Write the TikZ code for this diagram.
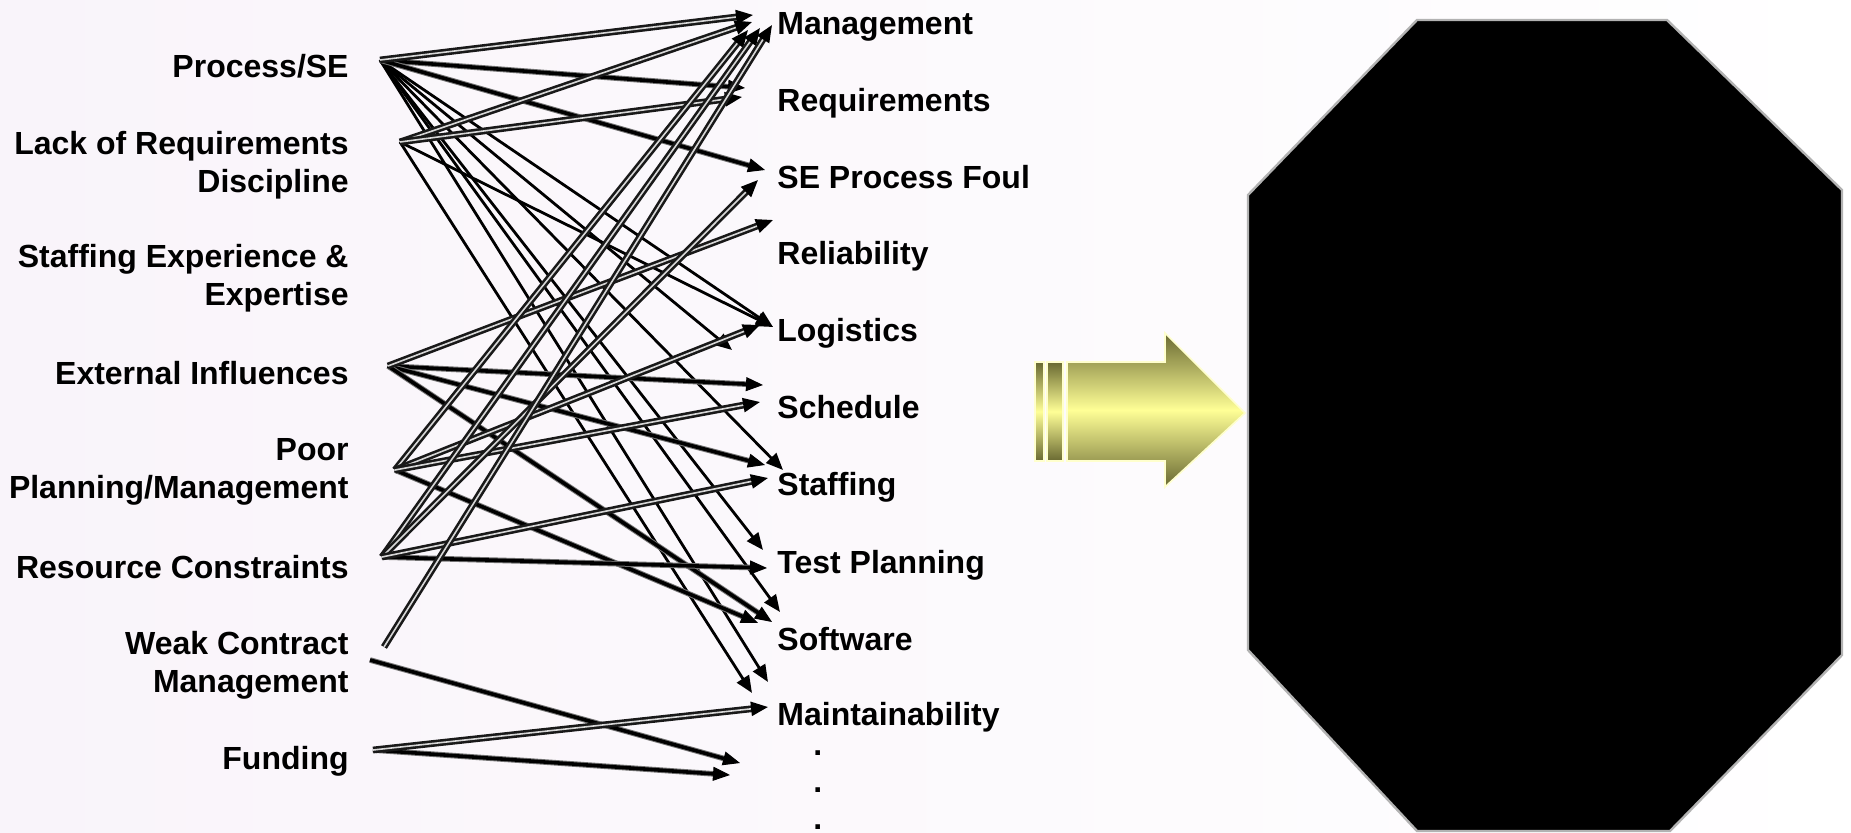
\documentclass[tikz,border=0pt]{standalone}
\usepackage{fontspec}
\setmainfont{Liberation Sans}
\usetikzlibrary{arrows.meta}
\definecolor{bgl}{RGB}{249,244,250}
\definecolor{olvd}{RGB}{105,105,50}
\definecolor{yel}{RGB}{255,255,150}
\definecolor{yelp}{RGB}{255,255,205}
\definecolor{stripe}{RGB}{215,215,215}
\begin{document}
\begin{tikzpicture}[x=0.5pt,y=-0.5pt,
  lbl/.style={font=\bfseries\fontsize{16}{19}\selectfont, inner sep=0pt},
  lleft/.style={lbl, anchor=base east, align=right},
  lright/.style={lbl, anchor=base west},
  tipA/.style={-{Triangle[length=8.5pt,width=7pt,color=black]}},
  cthin/.style={tipA, draw=black, line width=1.4pt},
  cthick/.style={tipA, draw=black!55, double=black, double distance=1.8pt, line width=0.5pt},
  ctriple/.style={tipA, draw=black!90, double=stripe, double distance=0.8pt, line width=1.3pt},
  ydark/.style={top color=olvd, bottom color=olvd, middle color=yel, draw=yelp, line width=0.8pt}
]
\useasboundingbox (0,0) rectangle (1851,833);
\shade[left color=bgl, right color=white] (0,0) rectangle (1851,833);

% octagon
\fill[black, draw=gray!60, line width=1.2pt] (1417,20) -- (1667,20) -- (1842,190) -- (1842,655) -- (1670,831) -- (1417,831) -- (1248,650) -- (1248,195) -- cycle;

% yellow arrow
\shadedraw[ydark] (1035,362) rectangle (1044,461);
\shadedraw[ydark] (1047,362) rectangle (1063,461);
\shadedraw[ydark] (1067,362) -- (1165,362) -- (1165,333) -- (1245,413) -- (1165,487) -- (1165,461) -- (1067,461) -- cycle;

% left labels (anchor at baseline of last line)
\node[lleft] (nP)  at (349,78)  {Process/SE};
\node[lleft] (nL)  at (349,193) {Lack of Requirements\\Discipline};
\node[lleft] (nS)  at (349,306) {Staffing Experience \&\\Expertise};
\node[lleft] (nE)  at (349,385) {External Influences};
\node[lleft] (nPP) at (349,499) {Poor\\Planning/Management};
\node[lleft] (nR)  at (349,578) {Resource Constraints};
\node[lleft] (nW)  at (349,692) {Weak Contract\\Management};
\node[lleft] (nF)  at (349,769) {Funding};

% right labels
\node[lright] (rM)  at (777,35)  {Management};
\node[lright] (rRq) at (777,112) {Requirements};
\node[lright] (rS)  at (777,189) {SE Process Foul};
\node[lright] (rRl) at (777,265) {Reliability};
\node[lright] (rLg) at (777,342) {Logistics};
\node[lright] (rSc) at (777,419) {Schedule};
\node[lright] (rSt) at (777,495) {Staffing};
\node[lright] (rT)  at (777,573) {Test Planning};
\node[lright] (rSw) at (777,650) {Software};
\node[lright] (rMa) at (777,725) {Maintainability};
\node[lright] (d1)  at (813,755) {.};
\node[lright] (d2)  at (813,792) {.};
\node[lright] (d3)  at (813,829) {.};

% source points
\coordinate (sP)  at (380,60);
\coordinate (sL)  at (400,142);
\coordinate (sE)  at (388,366);
\coordinate (sPP) at (395,470);
\coordinate (sR)  at (382,557);
\coordinate (sW)  at (384,647);
\coordinate (sW2) at (370,660);
\coordinate (sF)  at (373,750);

% tips
\coordinate (tM1) at (753,15);
\coordinate (tM2) at (752,22);
\coordinate (tM3) at (748,30);
\coordinate (tM4) at (760,28);
\coordinate (tM5) at (772,25);
\coordinate (tRq1) at (745,88);
\coordinate (tRq2) at (742,97);
\coordinate (tS1) at (765,170);
\coordinate (tS2) at (758,180);
\coordinate (tRl) at (773,220);
\coordinate (tLg1) at (773,327);
\coordinate (tLg2) at (760,325);
\coordinate (tLg3) at (732,350);
\coordinate (tSc1) at (763,385);
\coordinate (tSc2) at (760,402);
\coordinate (tSt1) at (765,465);
\coordinate (tSt2) at (783,470);
\coordinate (tSt3) at (768,478);
\coordinate (tT1) at (763,550);
\coordinate (tT2) at (767,568);
\coordinate (tSw1) at (780,612);
\coordinate (tSw2) at (772,622);
\coordinate (tSw3) at (758,623);
\coordinate (tMa1) at (768,682);
\coordinate (tMa2) at (752,693);
\coordinate (tMa3) at (768,707);
\coordinate (tB1) at (740,763);
\coordinate (tB2) at (730,775);

% thin connectors
\draw[cthin] (sP) -- (tLg1);
\draw[cthin] (sP) -- (tLg3);
\draw[cthin] (sP) -- (tSt2);
\draw[cthin] (sP) -- (tT1);
\draw[cthin] (sP) -- (tSw1);
\draw[cthin] (sP) -- (tMa1);
\draw[cthin] (sL) -- (tLg1);
\draw[cthin] (sL) -- (tMa2);

% thick connectors
\draw[cthick] (sP) -- (tRq1);
\draw[cthick] (sP) -- (tS1);
\draw[cthick] (sE) -- (tSc1);
\draw[cthick] (sE) -- (tSt1);
\draw[cthick] (sE) -- (tSw2);
\draw[cthick] (sPP) -- (tSw3);
\draw[cthick] (sR) -- (tT2);
\draw[cthick] (sW2) -- (tB1);
\draw[cthick] (sF) -- (tB2);

% triple connectors
\draw[ctriple] (sP) -- (tM1);
\draw[ctriple] (sL) -- (tM2);
\draw[ctriple] (sL) -- (tRq2);
\draw[ctriple] (sE) -- (tRl);
\draw[ctriple] (sPP) -- (tM3);
\draw[ctriple] (sPP) -- (tLg2);
\draw[ctriple] (sPP) -- (tSc2);
\draw[ctriple] (sR) -- (tM4);
\draw[ctriple] (sR) -- (tS2);
\draw[ctriple] (sR) -- (tSt3);
\draw[ctriple] (sW) -- (tM5);
\draw[ctriple] (sF) -- (tMa3);
\end{tikzpicture}
\end{document}
